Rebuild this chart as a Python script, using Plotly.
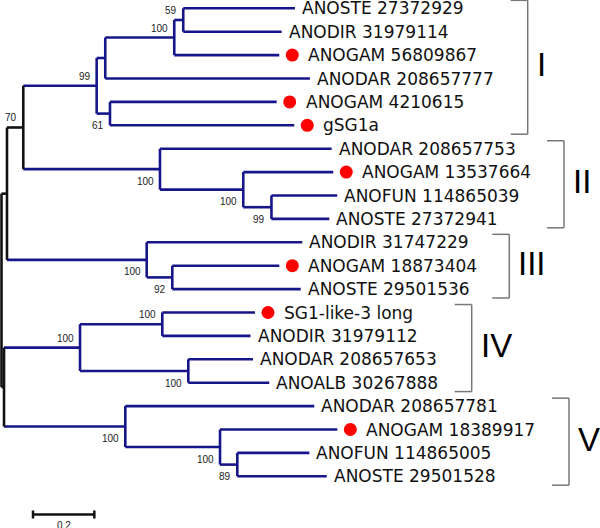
import plotly.graph_objects as go

# ---------------- data ----------------
# internal nodes: name, parent, branch length, bootstrap support
int_names = ["R", "A", "B", "N70", "N99", "NX", "N100a", "N59", "N61", "N100b",
             "N100c", "N99b", "N100d", "N92", "N100e", "N100f", "N100g", "N100h",
             "N100i", "N89"]
int_parent = [None, "R", "R", "A", "N70", "N99", "NX", "N100a", "N99", "N70",
              "N100b", "N100c", "A", "N100d", "B", "N100e", "N100e", "B",
              "N100h", "N100i"]
int_length = [0.0, 0.0179, 0.0082, 0.0531, 0.2393, 0.0280, 0.2250, 0.0293, 0.0434,
              0.4457, 0.2716, 0.0919, 0.4555, 0.0835, 0.2478, 0.2683, 0.3531,
              0.3955, 0.3088, 0.0564]
int_support = [None, None, None, 70, 99, None, 100, 59, 61, 100,
               100, 99, 100, 92, 100, 100, 100, 100, 100, 89]

# leaves, top to bottom
leaf_names = ["ANOSTE 27372929", "ANODIR 31979114", "ANOGAM 56809867",
              "ANODAR 208657777", "ANOGAM 4210615", "gSG1a",
              "ANODAR 208657753", "ANOGAM 13537664", "ANOFUN 114865039",
              "ANOSTE 27372941",
              "ANODIR 31747229", "ANOGAM 18873404", "ANOSTE 29501536",
              "SG1-like-3 long", "ANODIR 31979112", "ANODAR 208657653",
              "ANOALB 30267888",
              "ANODAR 208657781", "ANOGAM 18389917", "ANOFUN 114865005",
              "ANOSTE 29501528"]
leaf_parent = ["N59", "N59", "N100a", "NX", "N61", "N61",
               "N100b", "N100c", "N99b", "N99b",
               "N100d", "N92", "N92",
               "N100f", "N100f", "N100g", "N100g",
               "N100h", "N100i", "N89", "N89"]
leaf_length = [0.3642, 0.3208, 0.3424, 0.6674, 0.5435, 0.6009,
               0.5598, 0.2934, 0.2145, 0.1885,
               0.5073, 0.3489, 0.4187,
               0.3022, 0.2876, 0.2110, 0.2638,
               0.6162, 0.3825, 0.2348, 0.2915]
leaf_marked = [0, 0, 1, 0, 1, 1,
               0, 1, 0, 0,
               0, 1, 0,
               1, 0, 0, 0,
               0, 1, 0, 0]

# clades (rows, 1-based)
clade_labels = ["I", "II", "III", "IV", "V"]
clade_first = [1, 7, 11, 14, 18]
clade_last = [6, 10, 13, 17, 21]

scale_length = 0.2
scale_label = "0.2"

# ---------------- layout constants ----------------
W, H = 600, 528
PXU = 306.7          # pixels per unit branch length
X0_PX = 1.5          # pixel of root
ROW0_PX = 8.3        # pixel of first row
ROW_PX = 23.4        # pixels per row
BLUE = "#16168a"
BLACK = "#111111"
BRACKET = "#777777"
black_nodes = {"R", "A", "B", "N70"}
bracket_px = [527.7, 564.0, 509.3, 471.7, 569.0]

# ---------------- tree layout ----------------
parent = dict(zip(int_names, int_parent))
parent.update(dict(zip(leaf_names, leaf_parent)))
length = dict(zip(int_names, int_length))
length.update(dict(zip(leaf_names, leaf_length)))
support = dict(zip(int_names, int_support))

children = {n: [] for n in int_names}
for n in int_names[1:] + leaf_names:
    children[parent[n]].append(n)

depth = {}
def get_depth(n):
    if n not in depth:
        p = parent[n]
        depth[n] = 0.0 if p is None else get_depth(p) + length[n]
    return depth[n]
for n in int_names + leaf_names:
    get_depth(n)

ypos = {name: i + 1 for i, name in enumerate(leaf_names)}
def get_y(n):
    if n not in ypos:
        ys = [get_y(c) for c in children[n]]
        ypos[n] = (min(ys) + max(ys)) / 2
    return ypos[n]
get_y("R")

seg = {BLUE: ([], []), BLACK: ([], [])}
for n in int_names:
    ys = [ypos[c] for c in children[n]]
    col = BLACK if n in black_nodes else BLUE
    seg[col][0].extend([depth[n], depth[n], None])
    seg[col][1].extend([min(ys), max(ys), None])
for n in int_names[1:] + leaf_names:
    col = BLACK if n in black_nodes else BLUE
    seg[col][0].extend([depth[parent[n]], depth[n], None])
    seg[col][1].extend([ypos[n], ypos[n], None])

fig = go.Figure()
for col in (BLUE, BLACK):
    fig.add_trace(go.Scatter(x=seg[col][0], y=seg[col][1], mode="lines",
                             line=dict(color=col, width=2.6), hoverinfo="skip",
                             showlegend=False, cliponaxis=False))

# red dots
mx = [depth[n] + 13 / PXU for n, m in zip(leaf_names, leaf_marked) if m]
my = [ypos[n] for n, m in zip(leaf_names, leaf_marked) if m]
fig.add_trace(go.Scatter(x=mx, y=my, mode="markers",
                         marker=dict(color="#ff0000", size=13, line=dict(width=0)),
                         hoverinfo="skip", showlegend=False))

ann = []
for n, m in zip(leaf_names, leaf_marked):
    ann.append(dict(x=depth[n], y=ypos[n], text=n, showarrow=False,
                    xanchor="left", yanchor="middle", xshift=27 if m else 5,
                    font=dict(family="Verdana, DejaVu Sans", size=17, color="#111111")))

for n in int_names:
    s = support[n]
    if s is None:
        continue
    above = ypos[n] < ypos[parent[n]]
    ann.append(dict(x=depth[n], y=ypos[n], text=str(s), showarrow=False,
                    xanchor="right", yanchor="middle", xshift=-4,
                    yshift=9.5 if above else -12,
                    font=dict(family="Arial, Liberation Sans", size=10, color="#222222")))

def px_to_x(px):
    return (px - X0_PX) / PXU

def px_to_row(py):
    return 1 + (py - ROW0_PX) / ROW_PX

shapes = []
for lab, r0, r1, bpx in zip(clade_labels, clade_first, clade_last, bracket_px):
    top, bot = r0 - 0.34, r1 + 0.38
    bx = px_to_x(bpx)
    tx = px_to_x(bpx - 17)
    for (xa, ya, xb, yb) in [(bx, top, bx, bot), (tx, top, bx, top), (tx, bot, bx, bot)]:
        shapes.append(dict(type="line", x0=xa, y0=ya, x1=xb, y1=yb,
                           line=dict(color=BRACKET, width=1.5)))
    ann.append(dict(x=bx, y=(top + bot) / 2, text=lab, showarrow=False,
                    xanchor="left", yanchor="middle", xshift=7, yshift=2.5,
                    font=dict(family="Arial, Liberation Sans", size=33, color="#000000")))

# scale bar
sb_y = px_to_row(514.5)
sb_x0 = px_to_x(33)
sb_x1 = sb_x0 + scale_length
tick = 4 / ROW_PX
shapes.append(dict(type="line", x0=sb_x0, y0=sb_y, x1=sb_x1, y1=sb_y,
                   line=dict(color=BLACK, width=2.5)))
for xx in (sb_x0, sb_x1):
    shapes.append(dict(type="line", x0=xx, y0=sb_y - tick, x1=xx, y1=sb_y + tick,
                       line=dict(color=BLACK, width=2.5)))
ann.append(dict(x=(sb_x0 + sb_x1) / 2, y=sb_y, text=scale_label, showarrow=False,
                xanchor="center", yanchor="top", yshift=-3,
                font=dict(family="Arial, Liberation Sans", size=10, color="#222222")))

fig.update_layout(
    width=W, height=H, margin=dict(l=0, r=0, t=0, b=0),
    paper_bgcolor="white", plot_bgcolor="white",
    xaxis=dict(range=[px_to_x(0), px_to_x(W)], visible=False, fixedrange=True),
    yaxis=dict(range=[px_to_row(H), px_to_row(0)], visible=False, fixedrange=True),
    annotations=ann, shapes=shapes,
)
# remove the browser's default 8px page margin so the figure fills the window
fig.write_html("out.html",
               config={"displayModeBar": False},
               post_script="document.body.style.margin='0';"
                           "document.body.style.overflow='hidden';")
